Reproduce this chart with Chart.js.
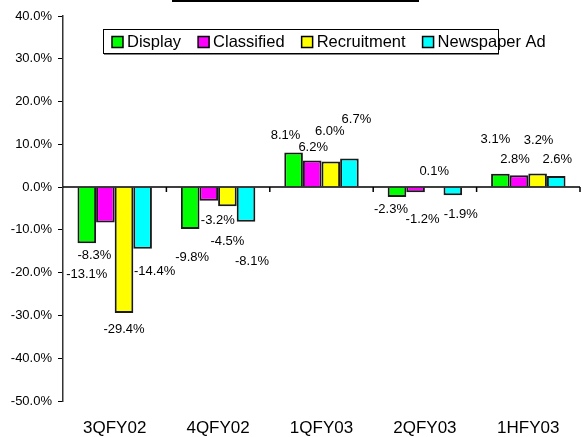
<!DOCTYPE html>
<html>
<head>
<meta charset="utf-8">
<script src="https://cdn.jsdelivr.net/npm/chart.js@4"></script>
<style>
  html, body { margin: 0; padding: 0; background: #fff; }
</style>
</head>
<body>
<canvas id="chart" width="582" height="437"></canvas>
<script>
const categories = ["3QFY02", "4QFY02", "1QFY03", "2QFY03", "1HFY03"];
const seriesNames = ["Display", "Classified", "Recruitment", "Newspaper Ad"];
const display = [-13.1, -9.8, 8.1, -2.3, 3.1];
const classified = [-8.3, -3.2, 6.2, -1.2, 2.8];
const recruitment = [-29.4, -4.5, 6.0, 0.1, 3.2];
const newspaperAd = [-14.4, -8.1, 6.7, -1.9, 2.6];
const yMin = -50, yMax = 40, yStep = 10;

const colors = ["#00ff00", "#ff00ff", "#ffff00", "#00ffff"];
// label nudges [dx, dy] from the bar end, so labels don't collide
const labelNudge = [
  [[0, 31], [2, 28], [-8, -17], [-6, 12], [-5, -34]],
  [[-11, 33], [9, 20], [1, -13], [7, 27], [-4, -16]],
  [[0, 17], [0, 35], [-1, -30], [0, -15], [1, -33]],
  [[12, 23], [6, 40], [7, -39], [8, 19], [1, -17]]
];
const FONT = 'Arial, "Liberation Sans", sans-serif';

const decor = {
  id: "decor",
  afterDatasetsDraw(chart) {
    const ctx = chart.ctx;
    const a = chart.chartArea;
    const y0 = chart.scales.y.getPixelForValue(0);
    ctx.save();

    // zero line with category ticks
    ctx.strokeStyle = "#000";
    ctx.lineWidth = 1.5;
    ctx.beginPath();
    ctx.moveTo(a.left, y0);
    ctx.lineTo(a.right, y0);
    for (let i = 1; i <= categories.length; i++) {
      const bx = a.left + (a.right - a.left) * i / categories.length;
      ctx.moveTo(bx, y0);
      ctx.lineTo(bx, y0 + 5);
    }
    ctx.stroke();

    // value labels
    ctx.font = "13px " + FONT;
    ctx.fillStyle = "#000";
    ctx.textAlign = "center";
    ctx.textBaseline = "middle";
    chart.data.datasets.forEach((ds, di) => {
      chart.getDatasetMeta(di).data.forEach((bar, i) => {
        const n = labelNudge[di][i];
        ctx.fillText(ds.data[i].toFixed(1) + "%", bar.x + n[0], bar.y + n[1]);
      });
    });

    // title underline (clipped title)
    ctx.fillStyle = "#000";
    ctx.fillRect(172, 0, 247, 2);

    // legend
    const lx = 103, ly = 29, lw = 395, lh = 24;
    ctx.fillStyle = "#fff";
    ctx.fillRect(lx, ly, lw, lh);
    ctx.fillStyle = "#808080";
    ctx.fillRect(lx + 1, ly + lh, lw, 2);
    ctx.strokeStyle = "#000";
    ctx.lineWidth = 1;
    ctx.strokeRect(lx + 0.5, ly + 0.5, lw, lh);
    ctx.font = "16.5px " + FONT;
    ctx.textAlign = "left";
    let x = 112;
    const cy = ly + lh / 2 + 1;
    chart.data.datasets.forEach((ds, di) => {
      ctx.fillStyle = ds.backgroundColor;
      ctx.fillRect(x, cy - 5.5, 11, 11);
      ctx.lineWidth = 1.5;
      ctx.strokeRect(x, cy - 5.5, 11, 11);
      ctx.fillStyle = "#000";
      ctx.fillText(ds.label, x + 15, cy);
      x += 15 + ctx.measureText(ds.label).width + 17;
    });

    ctx.restore();
  }
};

const seriesData = [display, classified, recruitment, newspaperAd];

new Chart(document.getElementById("chart"), {
  type: "bar",
  data: {
    labels: categories,
    datasets: seriesNames.map((name, i) => ({
      label: name,
      data: seriesData[i],
      backgroundColor: colors[i],
      borderColor: "#1a1a1a",
      borderWidth: 2,
      categoryPercentage: 0.72,
      barPercentage: 1.0
    }))
  },
  options: {
    responsive: false,
    devicePixelRatio: 1,
    animation: false,
    layout: { padding: { top: 16, right: 2, left: 0, bottom: 0 } },
    plugins: {
      legend: { display: false },
      tooltip: { enabled: false }
    },
    scales: {
      x: {
        grid: { display: false, drawTicks: false },
        border: { display: false },
        ticks: { color: "#000", font: { family: FONT, size: 17 }, padding: 17 },
        afterFit(scale) { scale.height = 36; }
      },
      y: {
        min: yMin,
        max: yMax,
        ticks: {
          stepSize: yStep,
          color: "#000",
          padding: 6,
          font: { family: FONT, size: 13 },
          callback: v => v.toFixed(1) + "%"
        },
        grid: { drawOnChartArea: false, drawTicks: true, tickLength: 5, color: "#000", lineWidth: 1 },
        border: { display: true, color: "#333", width: 1.5 },
        afterFit(scale) { scale.width = 63; }
      }
    }
  },
  plugins: [decor]
});
</script>
</body>
</html>
